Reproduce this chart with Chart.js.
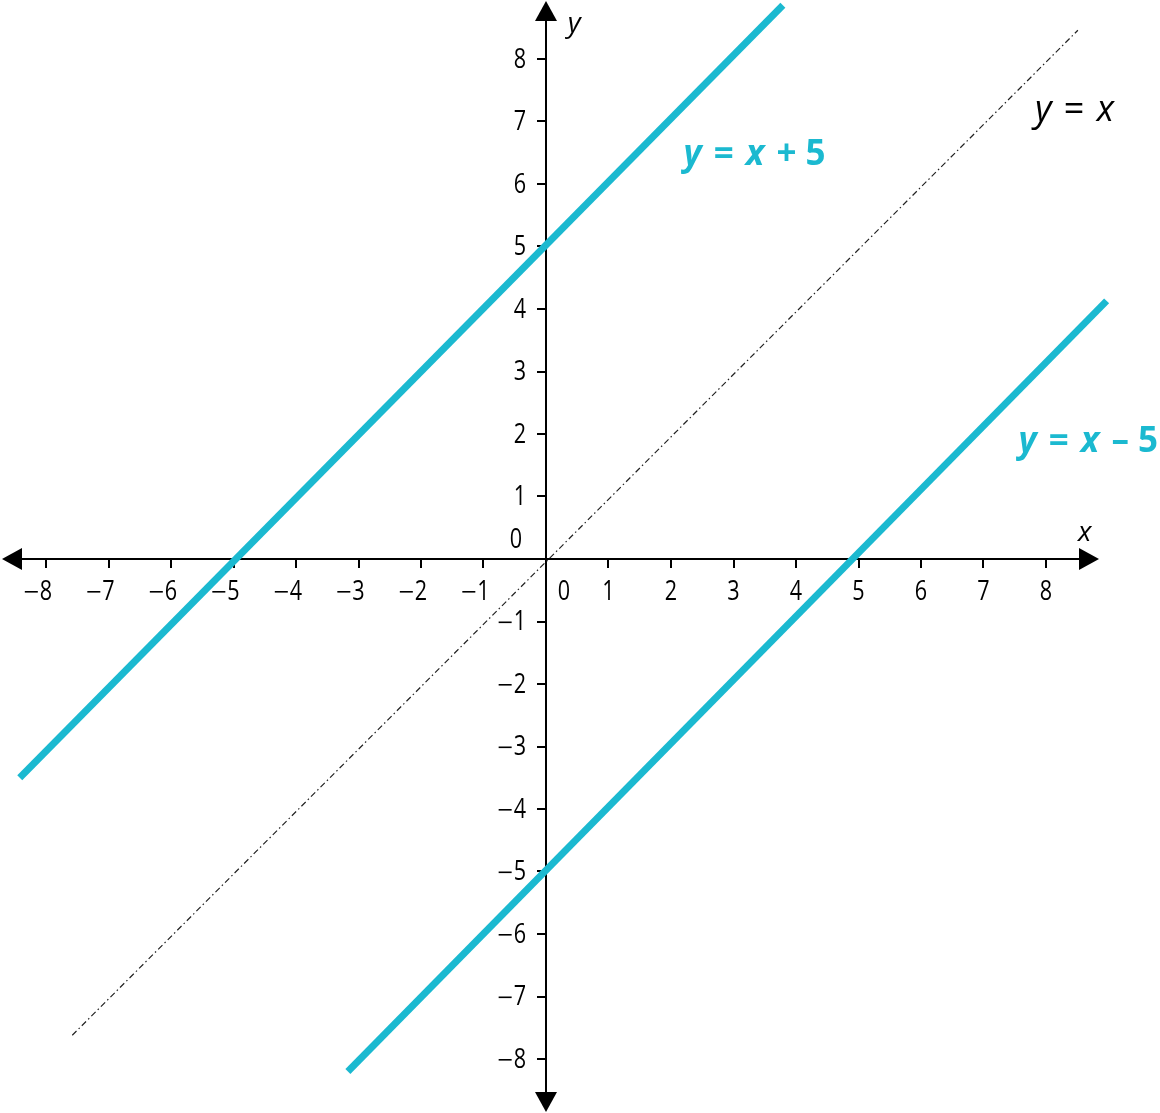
<!DOCTYPE html>
<html>
<head>
<meta charset="utf-8">
<script src="https://cdn.jsdelivr.net/npm/chart.js@4.4.0/dist/chart.umd.min.js"></script>
<style>
  html, body { margin:0; padding:0; background:#fff; }
  canvas { display:block; }
</style>
</head>
<body>
<canvas id="grafico" width="1160" height="1113"></canvas>
<script>
// ─── DATA ────────────────────────────────────────────────────────────────────
const xTicks = [-8, -7, -6, -5, -4, -3, -2, -1, 1, 2, 3, 4, 5, 6, 7, 8];
const yTicks = [-8, -7, -6, -5, -4, -3, -2, -1, 1, 2, 3, 4, 5, 6, 7, 8];

const upperX = [-8.42, 3.79];   // y = x + 5
const upperY = [-3.50, 8.86];
const lowerX = [-3.17, 8.97];   // y = x – 5
const lowerY = [-8.20, 4.13];
const identX = [-7.58, 8.51];   // y = x
const identY = [-7.62, 8.46];

const TEAL = "#1bb9d0";
const FONT = "'Open Sans', 'Noto Sans', sans-serif";
const SQZ  = 0.8;   // fonte estreita dos algarismos

const pts = (xs, ys) => xs.map((x, i) => ({ x, y: ys[i] }));

// rótulos das retas (coordenadas em unidades do gráfico)
const rotulos = [
  { at: [3.36, 6.46], color: TEAL, bold: true,  size: 35, parts: [["y", 1], [" = ", 0], ["x", 1], [" + 5", 0]] },
  { at: [8.70, 1.87], color: TEAL, bold: true,  size: 35, parts: [["y", 1], [" = ", 0], ["x", 1], [" – 5", 0]] },
  { at: [8.48, 7.17], color: "#000", bold: false, size: 36, parts: [["y", 1], [" = ", 0], ["x", 1]] }
];

function drawRich(ctx, parts, cx, cy, size, bold, color){
  const gap = 3;
  const w = parts.map(([t, it]) => {
    ctx.font = `${it ? "italic " : ""}${bold ? "bold " : ""}${size}px ${FONT}`;
    return ctx.measureText(t).width + gap;
  });
  let x = cx - w.reduce((a, b) => a + b, 0) / 2;
  ctx.fillStyle = color;
  ctx.textAlign = "left";
  ctx.textBaseline = "middle";
  parts.forEach(([t, it], i) => {
    ctx.font = `${it ? "italic " : ""}${bold ? "bold " : ""}${size}px ${FONT}`;
    ctx.fillText(t, x, cy);
    x += w[i];
  });
}

// algarismos estreitos + sinal de menos comprido
function tickText(ctx, v, x, y, align){
  const d = String(Math.abs(v));
  const dw = ctx.measureText(d).width * SQZ;
  const left = align === "center" ? x - dw / 2 : x - dw;
  ctx.save();
  ctx.translate(left, y);
  ctx.scale(SQZ, 1);
  ctx.textAlign = "left";
  ctx.fillText(d, 0, 0);
  ctx.restore();
  if(v < 0){
    ctx.fillRect(left - 15, y - 1, 13, 1.6);
  }
}

function arrow(ctx, tipX, tipY, dx, dy){
  const len = 20, half = 11;
  const bx = tipX - dx * len, by = tipY - dy * len;
  ctx.beginPath();
  ctx.moveTo(tipX, tipY);
  ctx.lineTo(bx - dy * half, by + dx * half);
  ctx.lineTo(bx + dy * half, by - dx * half);
  ctx.closePath();
  ctx.fill();
}

const eixosPlugin = {
  id: "eixos",
  beforeDatasetsDraw(chart){
    const { ctx, scales: { x, y } } = chart;
    const x0 = x.getPixelForValue(0), y0 = y.getPixelForValue(0);
    ctx.save();
    ctx.strokeStyle = "#000";
    ctx.fillStyle = "#000";
    ctx.lineWidth = 2;
    ctx.beginPath();
    ctx.moveTo(5, y0); ctx.lineTo(1096, y0);
    ctx.moveTo(x0, 3); ctx.lineTo(x0, 1110);
    ctx.stroke();
    arrow(ctx, 2, y0, -1, 0);
    arrow(ctx, 1099, y0, 1, 0);
    arrow(ctx, x0, 1, 0, -1);
    arrow(ctx, x0, 1112, 0, 1);

    // marcas
    ctx.beginPath();
    xTicks.forEach(v => { const px = Math.round(x.getPixelForValue(v)); ctx.moveTo(px, y0); ctx.lineTo(px, y0 + 9); });
    yTicks.forEach(v => { const py = Math.round(y.getPixelForValue(v)); ctx.moveTo(x0, py); ctx.lineTo(x0 - 9, py); });
    ctx.stroke();

    // rótulos das marcas
    ctx.font = `27px ${FONT}`;
    ctx.textBaseline = "middle";
    xTicks.forEach(v => tickText(ctx, v, x.getPixelForValue(v), y0 + 33, "center"));
    yTicks.forEach(v => tickText(ctx, v, x0 - 20, y.getPixelForValue(v) + 1, "right"));
    tickText(ctx, 0, x0 + 18, y0 + 33, "center");
    tickText(ctx, 0, x0 - 30, y0 - 19, "center");

    // nomes dos eixos
    ctx.font = `italic 28px ${FONT}`;
    ctx.textAlign = "center";
    ctx.fillText("x", x.getPixelForValue(8.62), y.getPixelForValue(0.42));
    ctx.fillText("y", x.getPixelForValue(0.45), y.getPixelForValue(8.56));
    ctx.restore();
  },
  afterDatasetsDraw(chart){
    const { ctx, scales: { x, y } } = chart;
    ctx.save();
    rotulos.forEach(r => drawRich(ctx, r.parts, x.getPixelForValue(r.at[0]), y.getPixelForValue(r.at[1]), r.size, r.bold, r.color));
    ctx.restore();
  }
};

new Chart(document.getElementById("grafico").getContext("2d"), {
  type: "scatter",
  data: {
    datasets: [
      { data: pts(identX, identY), showLine: true, borderColor: "#222", borderWidth: 1.2, borderDash: [6, 3, 1.5, 3], pointRadius: 0 },
      { data: pts(upperX, upperY), showLine: true, borderColor: TEAL, borderWidth: 7, pointRadius: 0 },
      { data: pts(lowerX, lowerY), showLine: true, borderColor: TEAL, borderWidth: 7, pointRadius: 0 }
    ]
  },
  options: {
    responsive: false,
    animation: false,
    layout: { padding: 0 },
    plugins: { legend: { display: false }, tooltip: { enabled: false } },
    scales: {
      x: { type: "linear", display: false, min: -8.736, max: 9.824 },
      y: { type: "linear", display: false, min: -8.864, max: 8.944 }
    }
  },
  plugins: [eixosPlugin]
});
</script>
</body>
</html>
